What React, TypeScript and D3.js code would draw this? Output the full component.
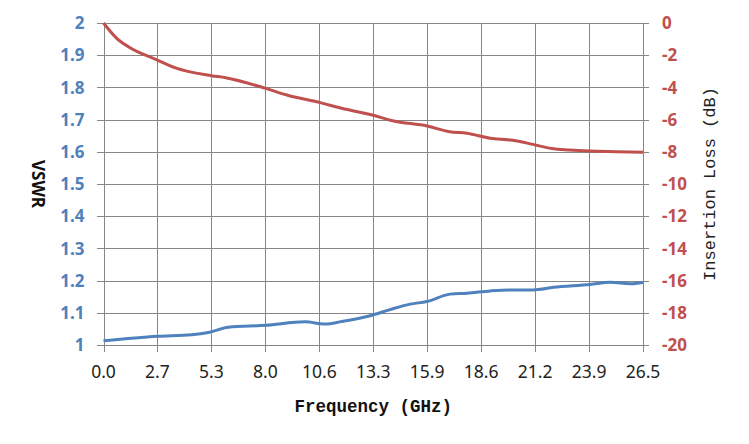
import React, { useRef, useEffect } from 'react';
import * as d3 from 'd3';

// Frequency ticks (GHz) and the labels printed under them
const freqTicks = [0, 2.65, 5.3, 7.95, 10.6, 13.25, 15.9, 18.55, 21.2, 23.85, 26.5];
const freqLabels = ['0.0', '2.7', '5.3', '8.0', '10.6', '13.3', '15.9', '18.6', '21.2', '23.9', '26.5'];
const vswrTicks = [1, 1.1, 1.2, 1.3, 1.4, 1.5, 1.6, 1.7, 1.8, 1.9, 2];
const lossTicks = [0, -2, -4, -6, -8, -10, -12, -14, -16, -18, -20];

// Insertion loss curve
const lossFreq = [0, 0.65, 1.22, 2.65, 3.5, 5.3, 6.0, 7.97, 9.0, 10.6, 11.7, 13.2, 14.2, 15.9, 17.0, 17.85, 19.0, 20.0, 21.1, 22.0, 22.9, 23.9, 25.2, 26.5];
const lossValues = [0, -0.95, -1.47, -2.3, -2.77, -3.27, -3.4, -4.06, -4.47, -4.93, -5.3, -5.71, -6.07, -6.4, -6.75, -6.85, -7.16, -7.27, -7.54, -7.8, -7.89, -7.95, -7.99, -8.03];

// VSWR curve
const vswrFreq = [0, 2.65, 4.33, 5.15, 6.13, 7.97, 9.9, 10.88, 11.7, 13.1, 14.08, 15.06, 15.88, 17.03, 17.85, 19.0, 20.0, 21.1, 22.1, 23.9, 24.9, 25.87, 26.5];
const vswrValues = [1.013, 1.027, 1.032, 1.039, 1.055, 1.061, 1.072, 1.065, 1.073, 1.091, 1.11, 1.127, 1.135, 1.158, 1.161, 1.168, 1.171, 1.171, 1.179, 1.188, 1.195, 1.19, 1.194];

const W = 749;
const H = 444;
const margin = { top: 23, right: 106, bottom: 99, left: 103.5 };

const BLUE = '#4F81BD';
const RED = '#C0504D';
const GRID = '#868686';

const App: React.FC = () => {
  const svgRef = useRef<SVGSVGElement>(null);

  useEffect(() => {
    if (!svgRef.current) return;
    const svg = d3.select(svgRef.current);
    svg.selectAll('*').remove();

    const x0 = margin.left;
    const x1 = W - margin.right;
    const y0 = margin.top;
    const y1 = H - margin.bottom;

    const x = d3.scaleLinear().domain([0, 26.5]).range([x0, x1]);
    const yL = d3.scaleLinear().domain([1, 2]).range([y1, y0]);
    const yR = d3.scaleLinear().domain([-20, 0]).range([y1, y0]);

    const g = svg.append('g');

    // Horizontal grid + tick marks both sides
    g.selectAll('.hgrid')
      .data(vswrTicks)
      .enter()
      .append('line')
      .attr('x1', x0 - 6.5)
      .attr('x2', x1 + 6)
      .attr('y1', d => Math.round(yL(d)) + 0.5)
      .attr('y2', d => Math.round(yL(d)) + 0.5)
      .style('stroke', GRID)
      .style('stroke-width', 1);

    // Vertical grid + tick marks below
    g.selectAll('.vgrid')
      .data(freqTicks)
      .enter()
      .append('line')
      .attr('y1', y0)
      .attr('y2', y1 + 7)
      .attr('x1', d => Math.round(x(d)) + 0.5)
      .attr('x2', d => Math.round(x(d)) + 0.5)
      .style('stroke', GRID)
      .style('stroke-width', 1);

    // Left tick labels
    g.selectAll('.lt')
      .data(vswrTicks)
      .enter()
      .append('text')
      .attr('x', x0 - 19)
      .attr('y', d => yL(d))
      .attr('dy', '0.36em')
      .attr('text-anchor', 'end')
      .style('font-family', '"Noto Sans", sans-serif')
      .style('font-weight', 'bold')
      .style('font-size', '17px')
      .style('fill', BLUE)
      .text(d => String(d));

    // Right tick labels
    g.selectAll('.rt')
      .data(lossTicks)
      .enter()
      .append('text')
      .attr('x', x1 + 19)
      .attr('y', d => yR(d))
      .attr('dy', '0.36em')
      .attr('text-anchor', 'start')
      .style('font-family', '"Noto Sans", sans-serif')
      .style('font-weight', 'bold')
      .style('font-size', '17px')
      .style('fill', RED)
      .text(d => String(d));

    // Bottom tick labels
    g.selectAll('.bt')
      .data(freqTicks)
      .enter()
      .append('text')
      .attr('x', d => x(d))
      .attr('y', y1 + 33)
      .attr('text-anchor', 'middle')
      .style('font-family', '"Noto Sans", sans-serif')
      .style('font-size', '17.5px')
      .style('fill', '#222')
      .text((d, i) => freqLabels[i]);

    // Axis titles
    g.append('text')
      .attr('transform', `translate(38, ${(y0 + y1) / 2}) rotate(90)`)
      .attr('text-anchor', 'middle')
      .attr('dy', '0.35em')
      .style('font-family', '"Noto Sans", sans-serif')
      .style('font-weight', 'bold')
      .style('font-size', '17px')
      .style('fill', '#111')
      .text('VSWR');

    g.append('text')
      .attr('transform', `translate(709, ${(y0 + y1) / 2}) rotate(-90)`)
      .attr('text-anchor', 'middle')
      .attr('dy', '0.35em')
      .style('font-family', '"Liberation Mono", monospace')
      .style('font-size', '17px')
      .style('fill', '#222')
      .text('Insertion Loss (dB)');

    g.append('text')
      .attr('x', (x0 + x1) / 2)
      .attr('y', y1 + 67)
      .attr('text-anchor', 'middle')
      .style('font-family', '"Liberation Mono", monospace')
      .style('font-weight', 'bold')
      .style('font-size', '17.5px')
      .style('fill', '#111')
      .text('Frequency (GHz)');

    // Curves
    const lossLine = d3.line<number>()
      .x((d, i) => x(lossFreq[i]))
      .y(d => yR(d))
      .curve(d3.curveMonotoneX);

    const vswrLine = d3.line<number>()
      .x((d, i) => x(vswrFreq[i]))
      .y(d => yL(d))
      .curve(d3.curveMonotoneX);

    g.append('path')
      .attr('d', vswrLine(vswrValues) || '')
      .style('fill', 'none')
      .style('stroke', BLUE)
      .style('stroke-width', 3)
      .style('stroke-linejoin', 'round');

    g.append('path')
      .attr('d', lossLine(lossValues) || '')
      .style('fill', 'none')
      .style('stroke', RED)
      .style('stroke-width', 3)
      .style('stroke-linejoin', 'round');
  }, []);

  return (
    <svg
      ref={svgRef}
      width={W}
      height={H}
      style={{ position: 'absolute', left: 0, top: 0, background: '#fff' }}
    />
  );
};

export default App;
